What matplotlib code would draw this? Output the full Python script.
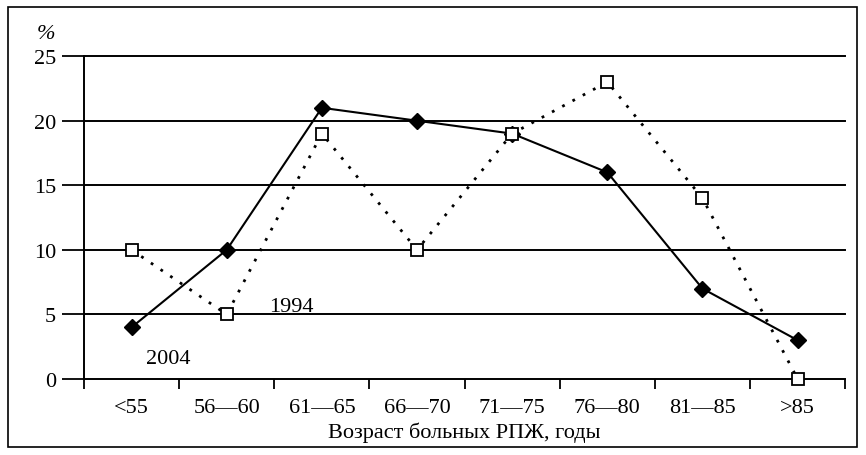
import numpy as np
import matplotlib.pyplot as plt
from matplotlib.patches import Rectangle

# Age groups and shares (%)
groups = ["<55", "56\u201460", "61\u201465", "66\u201470", "71\u201475", "76\u201480", "81\u201485", ">85"]
y2004 = [4, 10, 21, 20, 19, 16, 7, 3]
y1994 = [10, 5, 19, 10, 19, 23, 14, 0]
yticks = [0, 5, 10, 15, 20, 25]

plt.rcParams["font.family"] = ["Liberation Serif", "DejaVu Serif"]

fig = plt.figure(figsize=(8.66, 4.56), dpi=100)
ax = fig.add_axes([0.097, 0.1667, 0.879, 0.708])

x = np.arange(len(groups))

for v in yticks[1:]:
    ax.axhline(v, color="black", lw=1.4, zorder=1, clip_on=False)

ax.plot(x, y2004, color="black", lw=1.5, marker="D", ms=8,
        mfc="black", mec="black", zorder=3, clip_on=False)
ax.plot(x, y1994, color="black", lw=2, ls=(0, (1, 3.2)), marker="s", ms=9,
        mfc="white", mec="black", mew=1.3, zorder=4, clip_on=False)

ax.set_xlim(-0.5, len(groups) - 0.5)
ax.set_ylim(0, 25)
ax.set_yticks(yticks)
ax.set_xticks(np.arange(len(groups) + 1) - 0.5)
ax.set_xticklabels([])
ax.set_xticks(x, minor=True)
ax.set_xticklabels(groups, minor=True, fontsize=16)
ax.tick_params(axis="x", which="major", length=7, width=1.3, direction="out")
ax.tick_params(axis="x", which="minor", length=0, pad=14)
ax.tick_params(axis="y", length=16, width=1.3, direction="out", labelsize=16, pad=4)

for s in ["top", "right"]:
    ax.spines[s].set_visible(False)
for s in ["left", "bottom"]:
    ax.spines[s].set_linewidth(1.4)

ax.text(0.15, 1.55, "2004", fontsize=16, ha="left", va="center")
ax.text(1.45, 5.6, "1994", fontsize=16, ha="left", va="center")

ax.set_xlabel("Возраст больных РПЖ, годы", fontsize=16, labelpad=3)
fig.text(0.053, 0.925, "%", fontsize=16, style="italic", ha="center", va="center")

fig.patches.append(Rectangle((0.009, 0.018), 0.981, 0.965, transform=fig.transFigure,
                             fill=False, ec="black", lw=1.2))

fig.savefig("out.png", dpi=100)
